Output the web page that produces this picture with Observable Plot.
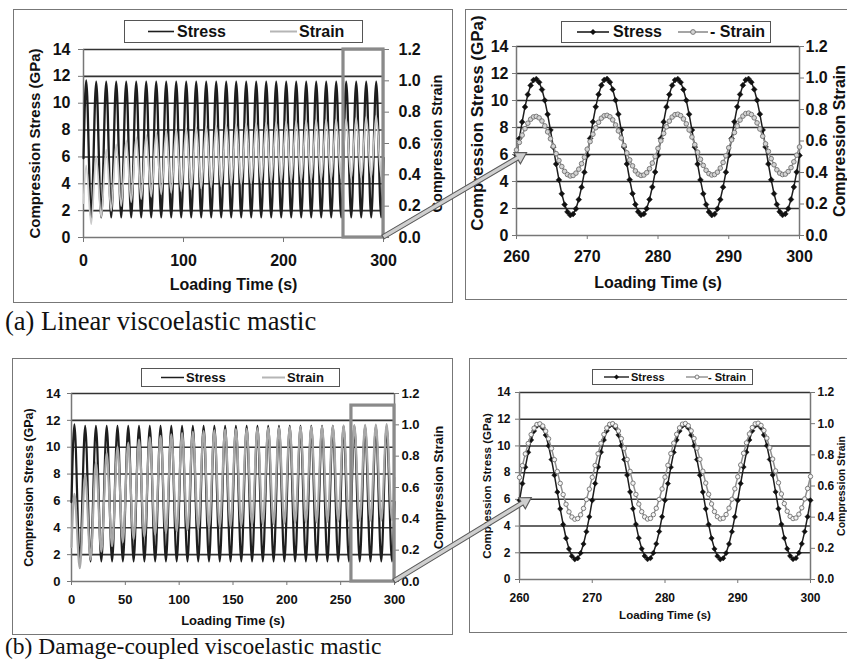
<!DOCTYPE html>
<html><head><meta charset="utf-8">
<script src="https://cdn.jsdelivr.net/npm/d3@7"></script>
<script src="https://cdn.jsdelivr.net/npm/@observablehq/plot@0.6"></script>
<style>
html,body{margin:0;padding:0;background:#fff;}
#page{position:relative;width:847px;height:660px;overflow:hidden;background:#fff;font-family:"Liberation Sans",Arial,sans-serif;}
.box{position:absolute;border:1px solid #777;box-sizing:border-box;}
.chart{position:absolute;}
.legend{position:absolute;border:1px solid #555;background:#fff;box-sizing:border-box;font-weight:bold;color:#111;}
.legend span{position:absolute;top:0;white-space:nowrap;}
.legend svg{position:absolute;top:0;}
.cap{position:absolute;font-family:"Liberation Serif","Times New Roman",serif;color:#111;white-space:nowrap;}
</style></head><body><div id="page"></div>
<script>
// ---------------- DATA ----------------
const stressTicks = [0, 2, 4, 6, 8, 10, 12, 14];
const strainTicks = [0, 0.2, 0.4, 0.6, 0.8, 1.0, 1.2];
const xTicksA = [0, 100, 200, 300];
const xTicksB = [0, 50, 100, 150, 200, 250, 300];
const xTicksZoom = [260, 270, 280, 290, 300];
const seriesNames = ["Stress", "Strain"];
const captions = ["(a) Linear viscoelastic mastic", "(b) Damage-coupled viscoelastic mastic"];
const zoomWindow = [260, 300];

// Overview (0-300 s): values at each cycle's peak and trough
const ovPeakTimes = [2.7,12.7,22.7,32.7,42.7,52.7,62.7,72.7,82.7,92.7,102.7,112.7,122.7,132.7,142.7,152.7,162.7,172.7,182.7,192.7,202.7,212.7,222.7,232.7,242.7,252.7,262.7,272.7,282.7,292.7];
const ovTroughTimes = [7.7,17.7,27.7,37.7,47.7,57.7,67.7,77.7,87.7,97.7,107.7,117.7,127.7,137.7,147.7,157.7,167.7,177.7,187.7,197.7,207.7,217.7,227.7,237.7,247.7,257.7,267.7,277.7,287.7,297.7];
const ovEndTimes = [0, 300];

const ovStressA_peaks = [11.7,11.6,11.6,11.6,11.6,11.6,11.6,11.6,11.6,11.6,11.6,11.6,11.6,11.6,11.6,11.6,11.6,11.6,11.6,11.6,11.6,11.6,11.6,11.6,11.6,11.6,11.6,11.6,11.6,11.6];
const ovStressA_troughs = [1.4,1.5,1.5,1.5,1.5,1.5,1.5,1.5,1.5,1.5,1.5,1.5,1.5,1.5,1.5,1.5,1.5,1.5,1.5,1.5,1.5,1.5,1.5,1.5,1.5,1.5,1.5,1.5,1.5,1.5];
const ovStressA_ends = [5.9, 5.93];
const ovStrainA_peaks = [0.46,0.52,0.56,0.595,0.62,0.64,0.655,0.67,0.68,0.69,0.697,0.704,0.71,0.715,0.72,0.724,0.728,0.732,0.735,0.738,0.741,0.744,0.747,0.75,0.752,0.754,0.756,0.763,0.770,0.777];
const ovStrainA_troughs = [0.085,0.13,0.17,0.2,0.225,0.245,0.26,0.275,0.285,0.295,0.305,0.313,0.32,0.327,0.333,0.338,0.343,0.347,0.351,0.355,0.359,0.362,0.366,0.369,0.372,0.375,0.378,0.381,0.384,0.387];
const ovStrainA_ends = [0.22, 0.562];

const ovStressB_peaks = [11.7,11.6,11.6,11.6,11.6,11.6,11.6,11.6,11.6,11.6,11.6,11.6,11.6,11.6,11.6,11.6,11.6,11.6,11.6,11.6,11.6,11.6,11.6,11.6,11.6,11.6,11.6,11.6,11.6,11.6];
const ovStressB_troughs = [1.4,1.5,1.5,1.5,1.5,1.5,1.5,1.5,1.5,1.5,1.5,1.5,1.5,1.5,1.5,1.5,1.5,1.5,1.5,1.5,1.5,1.5,1.5,1.5,1.5,1.5,1.5,1.5,1.5,1.5];
const ovStressB_ends = [5.9, 5.93];
const ovStrainB_peaks = [0.56,0.68,0.76,0.82,0.86,0.885,0.905,0.92,0.93,0.94,0.948,0.955,0.96,0.965,0.969,0.972,0.975,0.978,0.98,0.983,0.985,0.987,0.989,0.991,0.993,0.995,0.999,1.0,1.002,1.004];
const ovStrainB_troughs = [0.085,0.14,0.19,0.225,0.25,0.27,0.285,0.3,0.31,0.32,0.328,0.335,0.341,0.347,0.352,0.356,0.36,0.364,0.367,0.37,0.373,0.376,0.378,0.38,0.382,0.384,0.387,0.388,0.389,0.39];
const ovStrainB_ends = [0.22, 0.661];

// Zoom (260-300 s), samples every 0.4 s
const zoomTimes = d3.range(0, 101).map(k => +(260 + 0.4 * k).toFixed(1));
const stressZoomA = [
5.92,7.18,8.41,9.52,10.44,11.12,11.51,11.59,11.35,10.81,10.01,8.98,7.81,6.55,5.29,4.12,3.09,2.29,1.75,1.51,1.59,1.98,2.66,3.58,4.69,
5.93,7.19,8.42,9.53,10.45,11.13,11.52,11.60,11.36,10.82,10.02,8.99,7.82,6.56,5.30,4.13,3.10,2.30,1.76,1.52,1.60,1.99,2.67,3.59,4.70,
5.92,7.18,8.41,9.52,10.44,11.12,11.51,11.59,11.35,10.81,10.01,8.98,7.81,6.55,5.29,4.12,3.09,2.29,1.75,1.51,1.59,1.98,2.66,3.58,4.69,
5.93,7.19,8.42,9.53,10.45,11.13,11.52,11.60,11.36,10.82,10.02,8.99,7.82,6.56,5.30,4.13,3.10,2.30,1.76,1.52,1.60,1.99,2.67,3.59,4.70,
5.93];
const strainZoomA = [
0.543,0.591,0.637,0.678,0.713,0.738,0.753,0.756,0.747,0.727,0.696,0.658,0.614,0.567,0.520,0.476,0.438,0.407,0.387,0.378,0.381,0.396,0.421,0.456,0.497,
0.548,0.596,0.643,0.684,0.719,0.745,0.760,0.763,0.754,0.734,0.702,0.664,0.619,0.572,0.525,0.480,0.442,0.410,0.390,0.381,0.384,0.399,0.424,0.460,0.501,
0.553,0.601,0.648,0.690,0.726,0.752,0.767,0.770,0.761,0.740,0.709,0.670,0.625,0.577,0.529,0.484,0.445,0.414,0.393,0.384,0.387,0.402,0.428,0.464,0.506,
0.557,0.607,0.654,0.696,0.733,0.758,0.774,0.777,0.768,0.747,0.715,0.676,0.630,0.582,0.534,0.488,0.449,0.417,0.396,0.387,0.390,0.406,0.431,0.468,0.510,
0.562];
const stressZoomB = [
5.93,7.18,8.41,9.52,10.44,11.12,11.51,11.59,11.35,10.81,10.01,8.98,7.81,6.55,5.29,4.12,3.09,2.29,1.75,1.51,1.59,1.98,2.66,3.58,4.69,
5.92,7.19,8.42,9.53,10.45,11.13,11.52,11.60,11.36,10.82,10.02,8.99,7.82,6.56,5.30,4.13,3.10,2.30,1.76,1.52,1.60,1.99,2.67,3.59,4.70,
5.93,7.18,8.41,9.52,10.44,11.12,11.51,11.59,11.35,10.81,10.01,8.98,7.81,6.55,5.29,4.12,3.09,2.29,1.75,1.51,1.59,1.98,2.66,3.58,4.69,
5.92,7.19,8.42,9.53,10.45,11.13,11.52,11.60,11.36,10.82,10.02,8.99,7.82,6.56,5.30,4.13,3.10,2.30,1.76,1.52,1.60,1.99,2.67,3.59,4.70,
5.93];
const strainZoomB = [
0.655,0.731,0.806,0.873,0.930,0.971,0.995,0.999,0.985,0.952,0.903,0.841,0.769,0.693,0.617,0.545,0.483,0.434,0.401,0.387,0.391,0.415,0.456,0.513,0.580,
0.656,0.732,0.807,0.874,0.931,0.972,0.996,1.000,0.986,0.953,0.904,0.842,0.770,0.694,0.618,0.546,0.484,0.435,0.402,0.388,0.392,0.416,0.457,0.514,0.581,
0.657,0.733,0.808,0.875,0.932,0.973,0.997,1.001,0.987,0.954,0.905,0.843,0.771,0.695,0.619,0.547,0.485,0.436,0.403,0.389,0.393,0.417,0.458,0.515,0.582,
0.659,0.735,0.810,0.877,0.934,0.975,0.999,1.003,0.989,0.956,0.907,0.845,0.773,0.697,0.621,0.549,0.487,0.438,0.405,0.391,0.395,0.419,0.460,0.517,0.584,
0.661];

// ---------------- BUILD ----------------
const K = 14 / 1.2; // strain -> stress-axis units
const page = document.getElementById("page");

function overviewRows(peaks, troughs, ends) {
  const rows = [{t: ovEndTimes[0], v: ends[0]}];
  peaks.forEach((p, i) => { rows.push({t: ovPeakTimes[i], v: p}); rows.push({t: ovTroughTimes[i], v: troughs[i]}); });
  rows.push({t: ovEndTimes[1], v: ends[1]});
  return rows;
}
const zoomRows = vals => vals.map((v, i) => ({t: zoomTimes[i], v}));

function buildChart(c) {
  const [x0, x1] = c.xDomain;
  const marks = [
    Plot.gridY(stressTicks.slice(1), {stroke: "#333", strokeOpacity: 1, strokeWidth: c.gridW}),
    Plot.ruleY([0], {stroke: "#777", strokeWidth: 1.5}),
    Plot.ruleX([x0, x1], {stroke: "#777", strokeWidth: 1.5}),
    Plot.axisX(c.xTicks, {tickSize: c.xts, tickPadding: c.xtp, stroke: "#777", fill: "#111", fontSize: c.fs, fontWeight: "bold", label: null}),
    Plot.axisY(stressTicks, {anchor: "left", tickSize: c.yts, tickPadding: c.ytp, stroke: "#777", fill: "#111", fontSize: c.fs, fontWeight: "bold", label: null}),
    Plot.axisY(strainTicks.map(s => s * K), {anchor: "right", tickSize: c.rts, tickPadding: c.rtp, stroke: "#777", fill: "#111", fontSize: c.fs, fontWeight: "bold", label: null, tickFormat: d => (d / K).toFixed(1)}),
    ...c.dataMarks,
    Plot.text(["Loading Time (s)"], {frameAnchor: "bottom", textAnchor: "middle", dy: c.xLabDy, fontSize: c.labFs, fontWeight: "bold", fill: "#111"}),
    Plot.text(["Compression Stress (GPa)"], {frameAnchor: "left", textAnchor: "middle", dx: c.yLabDx, dy: c.yLabDy || 0, rotate: -90, fontSize: c.yLabFs, fontWeight: "bold", fill: "#111"}),
    Plot.text(["Compression Strain"], {frameAnchor: "right", textAnchor: "middle", dx: c.rLabDx, rotate: -90, fontSize: c.rLabFs, fontWeight: "bold", fill: "#111"})
  ];
  const svg = Plot.plot({
    width: c.w, height: c.h,
    marginLeft: c.ml, marginRight: c.mr, marginTop: c.mt, marginBottom: c.mb,
    x: {domain: c.xDomain, label: null},
    y: {domain: [0, 14], label: null},
    style: {fontFamily: "'Liberation Sans', Arial, sans-serif", fontWeight: "bold", background: "transparent", overflow: "visible", color: "#111"},
    marks
  });
  svg.classList.add("chart");
  svg.style.left = c.left + "px";
  svg.style.top = c.top + "px";
  page.appendChild(svg);
  return svg;
}

function box(l, t, w, h) {
  const d = document.createElement("div");
  d.className = "box";
  Object.assign(d.style, {left: l + "px", top: t + "px", width: w + "px", height: h + "px"});
  page.appendChild(d);
}

function overviewMarks(stressRows, strainRows, rectTop, s) {
  const stressLine = Plot.line(stressRows, {x: "t", y: "v", curve: "monotone-x", stroke: "#1e1e1e", strokeWidth: s.sw});
  const strainLine = Plot.line(strainRows, {x: "t", y: d => d.v * K, curve: "monotone-x", stroke: s.strainColor, strokeWidth: s.strainW});
  return [
    stressLine, strainLine,
    Plot.rect([{a: zoomWindow[0], b: zoomWindow[1], top: rectTop}], {x1: "a", x2: "b", y1: 0, y2: "top", fill: "none", stroke: "#8a8a8a", strokeWidth: 3.2})
  ];
}
function zoomMarks(stressRows, strainRows, s) {
  return [
    Plot.line(stressRows, {x: "t", y: "v", stroke: "#1e1e1e", strokeWidth: 1.5}),
    Plot.dot(stressRows, {x: "t", y: "v", symbol: "diamond2", r: s.dr, fill: "#111", stroke: "#111", strokeWidth: 0.5}),
    Plot.line(strainRows, {x: "t", y: d => d.v * K, stroke: "#8f8f8f", strokeWidth: 1.5}),
    Plot.dot(strainRows, {x: "t", y: d => d.v * K, symbol: "circle", r: s.cr, fill: s.cfill, stroke: "#6f6f6f", strokeWidth: 0.9})
  ];
}

// boxes
box(13, 9, 440, 294);
box(465, 9, 420, 291);
box(12, 358, 441, 277);
box(469, 358, 420, 275);

const cAL = buildChart({
  left: 13, top: 9, w: 439, h: 293, ml: 70, mr: 69, mt: 40, mb: 65,
  xDomain: [0, 300], xTicks: xTicksA, fs: 16, labFs: 16, yLabFs: 15, rLabFs: 14.5, gridW: 1.6,
  xts: 5, xtp: 12, yts: 5, ytp: 8, rts: 5, rtp: 10,
  xLabDy: 52, yLabDx: -48, rLabDx: 54,
  dataMarks: overviewMarks(overviewRows(ovStressA_peaks, ovStressA_troughs, ovStressA_ends), overviewRows(ovStrainA_peaks, ovStrainA_troughs, ovStrainA_ends), 14, {sw: 2.3, strainColor: "#cacaca", strainW: 1.8})
});
const cAR = buildChart({
  left: 465, top: 9, w: 400, h: 290, ml: 51, mr: 66, mt: 37, mb: 64,
  xDomain: [260, 300], xTicks: xTicksZoom, fs: 16, labFs: 16, yLabFs: 17, rLabFs: 16, gridW: 1.6,
  xts: 4, xtp: 11, yts: 4, ytp: 4, rts: 4, rtp: 2,
  xLabDy: 52, yLabDx: -39, yLabDy: -18, rLabDx: 40,
  dataMarks: zoomMarks(zoomRows(stressZoomA), zoomRows(strainZoomA), {dr: 2.6, cr: 2.3, cfill: "#d4d4d4"})
});
const cBL = buildChart({
  left: 12, top: 358, w: 440, h: 276, ml: 59, mr: 58, mt: 35, mb: 53,
  xDomain: [0, 300], xTicks: xTicksB, fs: 13, labFs: 13, yLabFs: 12.5, rLabFs: 13, gridW: 1.6,
  xts: 4, xtp: 9, yts: 4, ytp: 7, rts: 4, rtp: 3,
  xLabDy: 43, yLabDx: -43, rLabDx: 44,
  dataMarks: overviewMarks(overviewRows(ovStressB_peaks, ovStressB_troughs, ovStressB_ends), overviewRows(ovStrainB_peaks, ovStrainB_troughs, ovStrainB_ends), 13.1, {sw: 2.2, strainColor: "#a8a8a8", strainW: 2.2})
});
const cBR = buildChart({
  left: 469, top: 358, w: 396, h: 274, ml: 50, mr: 55, mt: 34, mb: 53,
  xDomain: [260, 300], xTicks: xTicksZoom, fs: 12, labFs: 11.5, yLabFs: 11.5, rLabFs: 10.5, gridW: 1.5,
  xts: 4, xtp: 10, yts: 4, ytp: 5, rts: 4, rtp: 3,
  xLabDy: 39, yLabDx: -32, rLabDx: 31.5,
  dataMarks: zoomMarks(zoomRows(stressZoomB), zoomRows(strainZoomB), {dr: 2.4, cr: 2.2, cfill: "#f4f4f4"})
});

// legends
function legend(l, t, w, h, fs, items) {
  const d = document.createElement("div");
  d.className = "legend";
  Object.assign(d.style, {left: l + "px", top: t + "px", width: w + "px", height: h + "px", fontSize: fs + "px"});
  const ih = h - 2;
  items.forEach(it => {
    const s = d3.create("svg").attr("width", it.sw).attr("height", ih).style("left", it.sx + "px");
    s.append("line").attr("x1", 0).attr("x2", it.sw).attr("y1", ih / 2).attr("y2", ih / 2)
      .attr("stroke", it.color).attr("stroke-width", it.lw);
    if (it.marker === "diamond") {
      const r = it.mr, cx = it.sw / 2, cy = ih / 2;
      s.append("path").attr("d", `M${cx},${cy - r}L${cx + r},${cy}L${cx},${cy + r}L${cx - r},${cy}Z`).attr("fill", "#111");
    } else if (it.marker === "circle") {
      s.append("circle").attr("cx", it.sw / 2).attr("cy", ih / 2).attr("r", it.mr).attr("fill", it.mfill).attr("stroke", "#6f6f6f").attr("stroke-width", 0.9);
    }
    d.appendChild(s.node());
    const sp = document.createElement("span");
    sp.textContent = it.text;
    sp.style.left = it.tx + "px";
    sp.style.lineHeight = ih + "px";
    d.appendChild(sp);
  });
  page.appendChild(d);
}
legend(124, 20, 239, 23, 16, [
  {sx: 23, sw: 26, color: "#1e1e1e", lw: 1.6, text: seriesNames[0], tx: 52},
  {sx: 145, sw: 27, color: "#b5b5b5", lw: 2, text: seriesNames[1], tx: 174}
]);
legend(561, 21, 210, 22, 16, [
  {sx: 15, sw: 32, color: "#1e1e1e", lw: 1.6, marker: "diamond", mr: 3, text: seriesNames[0], tx: 51},
  {sx: 116, sw: 30, color: "#8f8f8f", lw: 1.6, marker: "circle", mr: 2.4, mfill: "#d4d4d4", text: "- " + seriesNames[1], tx: 148}
]);
legend(141, 368, 199, 19, 13, [
  {sx: 19, sw: 23, color: "#1e1e1e", lw: 1.5, text: seriesNames[0], tx: 44},
  {sx: 120, sw: 23, color: "#b5b5b5", lw: 2, text: seriesNames[1], tx: 145}
]);
legend(592, 369, 161, 16, 11, [
  {sx: 11, sw: 25, color: "#1e1e1e", lw: 1.4, marker: "diamond", mr: 2.5, text: seriesNames[0], tx: 38},
  {sx: 93, sw: 22, color: "#8f8f8f", lw: 1.4, marker: "circle", mr: 2, mfill: "#f4f4f4", text: "- " + seriesNames[1], tx: 115}
]);

// captions
function caption(text, l, t, fs) {
  const d = document.createElement("div");
  d.className = "cap";
  d.textContent = text;
  Object.assign(d.style, {left: l + "px", top: t + "px", fontSize: fs + "px"});
  page.appendChild(d);
}
caption(captions[0], 5, 306, 26.5);
caption(captions[1], 5, 633, 23.5);

// arrows from the zoom window corner to the detail chart
const pr = page.getBoundingClientRect();
function pagePoint(svg, x, y) {
  const r = svg.getBoundingClientRect();
  return [r.left - pr.left + svg.scale("x").apply(x), r.top - pr.top + svg.scale("y").apply(y)];
}
const overlay = d3.create("svg").attr("width", 847).attr("height", 660)
  .style("position", "absolute").style("left", 0).style("top", 0).style("pointer-events", "none");
function arrow(p0, p1) {
  const dx = p1[0] - p0[0], dy = p1[1] - p0[1], L = Math.hypot(dx, dy);
  const ux = dx / L, uy = dy / L, nx = -uy, ny = ux;
  const w = 2.2, hw = 6.5, hl = 11;
  const bx = p1[0] - ux * hl, by = p1[1] - uy * hl;
  const pts = [
    [p0[0] + nx * w, p0[1] + ny * w], [bx + nx * w, by + ny * w], [bx + nx * hw, by + ny * hw], p1,
    [bx - nx * hw, by - ny * hw], [bx - nx * w, by - ny * w], [p0[0] - nx * w, p0[1] - ny * w]
  ];
  overlay.append("path").attr("d", "M" + pts.map(p => p.join(",")).join("L") + "Z")
    .attr("fill", "#cfcfcf").attr("stroke", "#5a5a5a").attr("stroke-width", 1.1);
}
arrow(pagePoint(cAL, zoomWindow[1], 0), pagePoint(cAR, 261.5, 6.1));
arrow(pagePoint(cBL, zoomWindow[1], 0), pagePoint(cBR, 261.7, 6.1));
page.appendChild(overlay.node());
</script></body></html>
